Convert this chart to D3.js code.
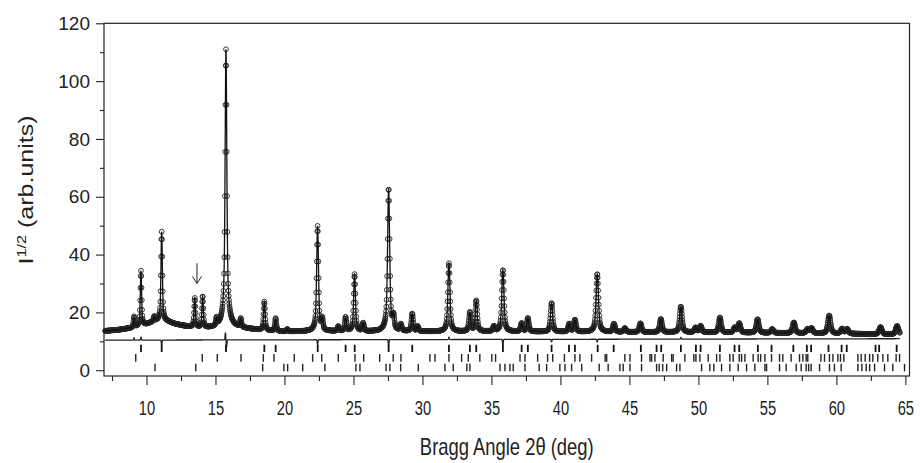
<!DOCTYPE html>
<html><head><meta charset="utf-8">
<script src="https://cdn.jsdelivr.net/npm/d3@7"></script>
<style>
body{margin:0;background:#fff}
text{font-family:"Liberation Sans",Arial,Helvetica,sans-serif;fill:#222}
</style>
</head><body>
<svg id="chart" width="920" height="463"></svg>
<script>
// ---------- data ----------
const peakPos = [9.10, 9.60, 10.56, 11.10, 13.50, 14.07, 15.08, 15.76, 16.83, 18.54,
  19.36, 20.20, 22.40, 22.74, 23.90, 24.43, 25.08, 25.70, 27.55, 27.90,
  28.44, 29.26, 29.65, 31.92, 33.44, 33.90, 35.18, 35.83, 37.19, 37.64,
  39.36, 40.64, 41.05, 42.67, 43.88, 44.67, 45.80, 47.28, 48.73, 49.80,
  50.16, 51.56, 52.64, 52.96, 54.29, 55.35, 56.92, 57.91, 58.20, 59.48,
  60.42, 60.78, 63.20, 64.40];
const peakTop = [18.5, 34.4, 18.5, 47.9, 24.9, 25.5, 17.4, 111.0, 17.6, 23.7,
  18.0, 14.2, 49.9, 17.4, 15.1, 18.3, 33.2, 16.2, 62.9, 18.0,
  15.7, 19.5, 15.1, 37.0, 20.0, 24.1, 15.1, 34.7, 16.2, 18.0,
  23.2, 16.0, 17.4, 33.3, 16.0, 14.5, 16.2, 17.7, 22.0, 14.7,
  15.3, 18.2, 14.7, 16.2, 17.6, 14.2, 16.5, 14.2, 14.5, 18.9,
  14.3, 14.2, 14.9, 15.3];

const bgDeg = [7, 8, 9, 10, 10.5, 11, 11.5, 12, 13, 14, 15, 16, 17, 18, 20, 22, 24, 26, 30, 35, 40, 45, 50, 55, 60, 65];
const bgVal = [13.6, 14.0, 14.7, 15.9, 16.8, 17.3, 16.9, 16.1, 15.1, 14.6, 14.6, 15.1, 14.5, 14.0, 13.4, 13.5, 13.5, 13.4, 13.4, 13.4, 13.3, 13.2, 13.1, 12.9, 12.7, 12.3];

const diffBaseDeg = [7, 65];
const diffBaseVal = [10.4, 10.9];
const diffPos = [9.10, 9.60, 11.10, 15.72, 15.80, 22.40, 27.55, 31.92, 35.83, 39.36, 42.67, 48.73];
const diffAmp = [0.8, 1.0, -1.8, 2.5, -2.6, -1.6, -2.2, 0.8, -2.2, -0.8, -0.9, 0.6];

const phase1Ticks = [9.60, 11.10, 15.76, 18.54, 19.36, 22.41, 24.43, 25.09, 27.55, 29.26,
  31.92, 33.44, 33.90, 35.83, 37.19, 37.64, 39.36, 40.62, 41.05, 42.70,
  43.86, 45.83, 46.97, 47.30, 48.73, 49.82, 50.16, 51.56, 52.62, 52.96,
  54.31, 55.30, 56.88, 57.86, 58.17, 59.43, 60.38, 60.75, 62.84, 63.10, 64.37];
const phase2Ticks = [9.22, 14.04, 15.13, 16.85, 18.47, 19.24, 20.71, 22.04, 22.70, 23.90,
  25.11, 25.74, 26.90, 27.88, 28.44, 30.54, 30.91, 31.92, 32.84, 33.32,
  34.16, 35.03, 35.30, 37.07, 37.43, 38.35, 39.07, 39.44, 40.29, 41.05,
  41.41, 42.26, 43.24, 43.35, 44.67, 45.04, 45.88, 46.49, 46.61, 46.85,
  47.45, 48.06, 48.17, 49.02, 49.67, 49.82, 50.11, 50.71, 51.32, 51.56,
  52.28, 52.52, 52.96, 53.13, 53.37, 53.97, 54.33, 54.51, 54.82, 55.30,
  55.88, 56.12, 56.72, 57.33, 57.57, 57.81, 57.93, 58.88, 59.14, 59.50,
  59.75, 60.11, 60.30, 60.54, 61.56, 61.80, 62.09, 62.41, 62.64, 63.00,
  63.37, 63.73, 64.33, 64.58];
const phase3Ticks = [10.62, 13.57, 18.42, 19.96, 20.23, 21.32, 22.93, 25.18, 25.47, 27.36,
  27.64, 28.42, 29.70, 31.63, 32.23, 33.22, 33.44, 35.62, 35.98, 36.34,
  36.58, 37.43, 38.46, 39.00, 39.96, 40.33, 40.81, 41.54, 42.81, 43.46,
  44.31, 44.55, 45.04, 45.88, 46.97, 47.16, 47.41, 47.70, 48.42, 48.66,
  50.23, 50.83, 51.12, 51.68, 52.28, 52.88, 53.49, 54.09, 54.82, 54.94,
  55.88, 56.36, 57.09, 57.45, 57.81, 57.99, 58.17, 58.78, 59.50, 59.86,
  60.35, 61.56, 61.85, 62.16, 62.41, 62.77, 63.49, 64.09, 64.94];

const xTickLabels = [10, 15, 20, 25, 30, 35, 40, 45, 50, 55, 60, 65];
const xMinorTicks = [7.5, 12.5, 17.5, 22.5, 27.5, 32.5, 37.5, 42.5, 47.5, 52.5, 57.5, 62.5];
const yTickLabels = [0, 20, 40, 60, 80, 100, 120];
const yMinorTicks = [10, 30, 50, 70, 90, 110];

const scanStart = 7.0, scanEnd = 64.6, obsStep = 0.02, calcStep = 0.005;

// ---------- layout ----------
const svg = d3.select("#chart");
const L = 104, R = 909.5, T = 23.3, B = 376;
const x = d3.scaleLinear().domain([6.92, 65.3]).range([L, R]);
const y = d3.scaleLinear().domain([-2, 120]).range([B, T]);

const bg = d3.scaleLinear().domain(bgDeg).range(bgVal).clamp(true);
const diffBase = d3.scaleLinear().domain(diffBaseDeg).range(diffBaseVal);

function fwhm(p){ return 0.09 + 0.0024 * (p - 7); }
function pv(d, w){
  const t = d / w;
  const G = Math.exp(-4 * Math.LN2 * t * t);
  const Lz = 1 / (1 + 4 * t * t);
  return 0.5 * Lz + 0.5 * G;
}
const amps = peakPos.map((p, i) => Math.max(0, peakTop[i] * peakTop[i] - bg(p) * bg(p)));
function profile(t){
  const b = bg(t);
  let s = b * b;
  for (let i = 0; i < peakPos.length; i++){
    const d = t - peakPos[i];
    if (Math.abs(d) > 3) continue;
    s += amps[i] * pv(d, fwhm(peakPos[i]));
  }
  return Math.sqrt(s);
}

const nObs = Math.round((scanEnd - scanStart) / obsStep) + 1;
const obs = d3.range(nObs).map(i => { const t = scanStart + i * obsStep; return [t, profile(t)]; });
const nCalc = Math.round((scanEnd - scanStart) / calcStep) + 1;
const calc = d3.range(nCalc).map(i => { const t = scanStart + i * calcStep; return [t, profile(t)]; });
const nDiff = Math.round((scanEnd - scanStart) / 0.01) + 1;
const diff = d3.range(nDiff).map(i => {
  const t = scanStart + i * 0.01;
  let v = diffBase(t);
  for (let j = 0; j < diffPos.length; j++){
    const d = t - diffPos[j];
    v += diffAmp[j] * Math.exp(-(d * d) / (2 * 0.025 * 0.025));
  }
  return [t, v];
});

const plot = svg.append("g");

// observed points
plot.append("g").selectAll("circle").data(obs).join("circle")
  .attr("cx", d => x(d[0])).attr("cy", d => y(d[1])).attr("r", 2.4)
  .attr("fill", "none").attr("stroke", "#262626").attr("stroke-width", 0.9);

// calculated line
const line = d3.line().x(d => x(d[0])).y(d => y(d[1]));
plot.append("path").datum(calc).attr("d", line)
  .attr("fill", "none").attr("stroke", "#111").attr("stroke-width", 1.3);

// difference
plot.append("path").datum(diff).attr("d", line)
  .attr("fill", "none").attr("stroke", "#222").attr("stroke-width", 1.3);

// Bragg ticks
const rows = [
  {ticks: phase1Ticks, top: 8.8, bot: 6.3, w: 1.8, c: "#111"},
  {ticks: phase2Ticks, top: 5.6, bot: 2.9, w: 1.4, c: "#222"},
  {ticks: phase3Ticks, top: 2.2, bot: -0.4, w: 1.4, c: "#222"}
];
rows.forEach(r => {
  plot.append("g").selectAll("line").data(r.ticks).join("line")
    .attr("x1", d => x(d)).attr("x2", d => x(d))
    .attr("y1", y(r.top)).attr("y2", y(r.bot))
    .attr("stroke", r.c).attr("stroke-width", r.w);
});

// arrow annotation above the 13.5 deg peak
const arrowDeg = 13.66, arrowTop = 37.0, arrowTip = 30.0;
const ax = x(arrowDeg), ay1 = y(arrowTop), ay2 = y(arrowTip);
svg.append("path")
  .attr("d", `M${ax},${ay1}L${ax},${ay2}M${ax-4.5},${ay2-7}L${ax},${ay2}L${ax+4.5},${ay2-7}`)
  .attr("fill", "none").attr("stroke", "#222").attr("stroke-width", 1);

// frame
svg.append("rect").attr("x", L).attr("y", T).attr("width", R - L).attr("height", B - T)
  .attr("fill", "none").attr("stroke", "#222").attr("stroke-width", 1.2);

// axes
const xAxis = svg.append("g").attr("transform", `translate(0,${B})`)
  .call(d3.axisBottom(x).tickValues(xTickLabels).tickSize(9).tickPadding(15).tickFormat(d3.format("d")));
const xMinor = svg.append("g").attr("transform", `translate(0,${B})`)
  .call(d3.axisBottom(x).tickValues(xMinorTicks).tickSize(5).tickFormat(""));
const yAxis = svg.append("g").attr("transform", `translate(${L},0)`)
  .call(d3.axisLeft(y).tickValues(yTickLabels).tickSize(8).tickPadding(6).tickFormat(d3.format("d")));
const yMinor = svg.append("g").attr("transform", `translate(${L},0)`)
  .call(d3.axisLeft(y).tickValues(yMinorTicks).tickSize(4).tickFormat(""));
[xAxis, xMinor, yAxis, yMinor].forEach(g => {
  g.select(".domain").remove();
  g.selectAll(".tick line").attr("stroke", "#222").attr("stroke-width", 1.1);
  g.selectAll("text").attr("font-family", null).style("fill", "#222");
});
xAxis.selectAll("text").attr("font-size", 21).attr("transform", "scale(0.7,1)");
yAxis.selectAll("text").attr("font-size", 19);

// titles
svg.append("text").attr("transform", `translate(${(L + R) / 2},455) scale(0.8,1)`)
  .attr("text-anchor", "middle").attr("font-size", 23).text("Bragg Angle 2θ (deg)");
const yt = svg.append("text").attr("transform", `translate(33,190) rotate(-90) scale(1.25,1)`)
  .attr("text-anchor", "middle").attr("font-size", 20);
yt.append("tspan").text("I");
yt.append("tspan").attr("dy", -7).attr("font-size", 13).text("1/2");
yt.append("tspan").attr("dy", 7).text(" (arb.units)");
</script>
</body></html>
